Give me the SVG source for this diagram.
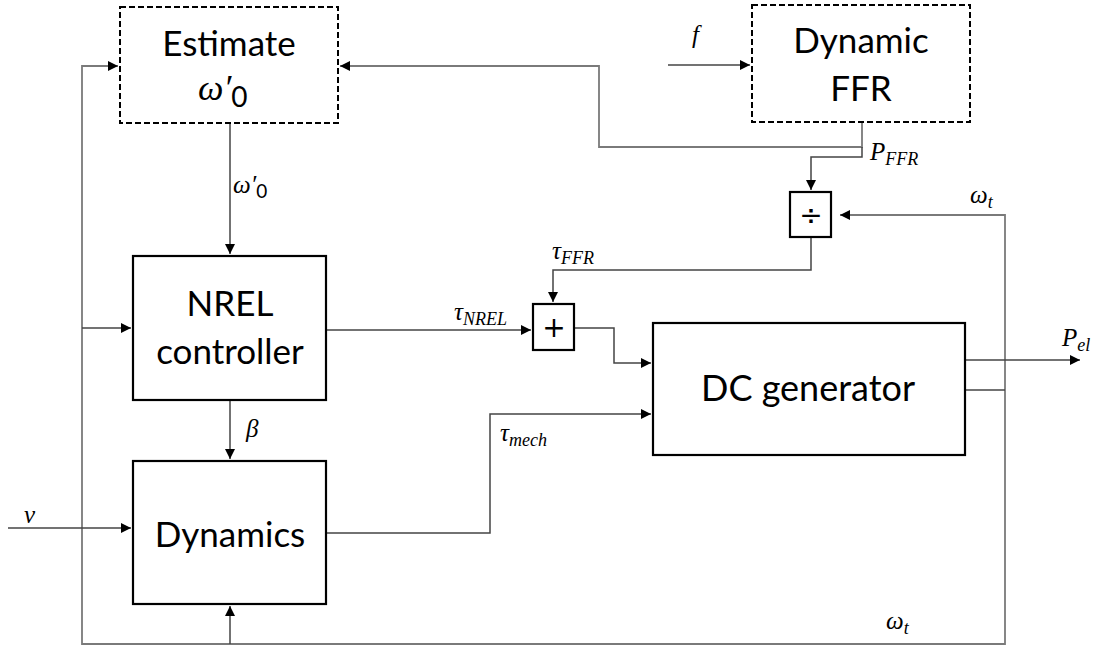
<svg xmlns="http://www.w3.org/2000/svg" width="1101" height="648" viewBox="0 0 1101 648">
<defs>
<marker id="ah" viewBox="0 0 10 10" refX="10" refY="5" markerWidth="10" markerHeight="10" markerUnits="userSpaceOnUse" orient="auto">
<path d="M0,0 L10,5 L0,10 z" fill="#000"/>
</marker>
</defs>
<style>
.box{fill:#fff;stroke:#000;stroke-width:2.2}
.dash{fill:#fff;stroke:#000;stroke-width:2;stroke-dasharray:6,3}
.lbl{font-family:Lato,"Open Sans","Liberation Sans",sans-serif;font-size:35px;fill:#000;text-anchor:middle}
.m{font-family:"Liberation Serif","DejaVu Serif",serif;font-style:italic;font-size:25px;fill:#000}
.sub{font-size:18px}
.c{fill:none;stroke:#444;stroke-width:1.5}
.g{fill:none;stroke:#7a7a7a;stroke-width:1.8}
.op{font-family:"DejaVu Sans",sans-serif;font-size:28px;fill:#000;text-anchor:middle}
</style>
<rect width="1101" height="648" fill="#fff"/>
<g id="connectors">
<polyline class="g" points="82,328 82,644 1005,644 1005,215 840,215" marker-end="url(#ah)"/>
<polyline class="g" points="82,328 82,66 118,66" marker-end="url(#ah)"/>
<line class="c" x1="82" y1="328" x2="131" y2="328" marker-end="url(#ah)"/>
<line class="c" x1="230" y1="644" x2="230" y2="606" marker-end="url(#ah)"/>
<line class="c" x1="8" y1="528" x2="131" y2="528" marker-end="url(#ah)"/>
<line class="c" x1="230" y1="124" x2="230" y2="254" marker-end="url(#ah)"/>
<line class="c" x1="230" y1="400" x2="230" y2="459" marker-end="url(#ah)"/>
<line class="c" x1="668" y1="65" x2="750" y2="65" marker-end="url(#ah)"/>
<polyline class="g" points="862,123 862,147 599,147 599,66 340,66" marker-end="url(#ah)"/>
<polyline class="c" points="862,147 862,157 811,157 811,190" marker-end="url(#ah)"/>
<polyline class="c" points="811,238 811,270 553,270 553,302" marker-end="url(#ah)"/>
<line class="c" x1="327" y1="330" x2="531" y2="330" marker-end="url(#ah)"/>
<polyline class="c" points="575,328 614,328 614,363 651,363" marker-end="url(#ah)"/>
<polyline class="c" points="327,533 490,533 490,414 651,414" marker-end="url(#ah)"/>
<line class="c" x1="966" y1="360" x2="1080" y2="360" marker-end="url(#ah)"/>
<line class="c" x1="966" y1="390" x2="1005" y2="390"/>
</g>
<g id="estimate">
<rect class="dash" x="120" y="7" width="218" height="116"/>
<text class="lbl" x="229" y="56">Estimate</text>
<text class="m" x="198" y="100" style="font-size:36px">ω′<tspan dy="7" style="font-style:normal;font-family:Lato,sans-serif;font-size:28px">0</tspan></text>
</g>
<g id="dynffr">
<rect class="dash" x="752" y="5" width="218" height="117"/>
<text class="lbl" x="861" y="53">Dynamic</text>
<text class="lbl" x="861" y="101">FFR</text>
</g>
<g id="nrel">
<rect class="box" x="133" y="256" width="193" height="144"/>
<text class="lbl" x="230" y="316">NREL</text>
<text class="lbl" x="230" y="364">controller</text>
</g>
<g id="dynamics">
<rect class="box" x="133" y="461" width="193" height="143"/>
<text class="lbl" x="230" y="547">Dynamics</text>
</g>
<g id="dcgen">
<rect class="box" x="653" y="323" width="312" height="132"/>
<text class="lbl" x="808" y="401" style="font-size:36px">DC generator</text>
</g>
<g id="divide">
<rect class="box" x="790" y="192" width="41" height="45"/>
<text class="op" x="811" y="225">÷</text>
</g>
<g id="plus">
<rect class="box" x="533" y="304" width="41" height="46"/>
<text class="op" x="554" y="337">+</text>
</g>
<g id="labels">
<text class="m" x="233" y="193">ω′<tspan dy="5" class="sub" style="font-style:normal;font-family:Lato,sans-serif;font-size:19px">0</tspan></text>
<text class="m" x="246" y="437">β</text>
<text class="m" x="24" y="523">v</text>
<text class="m" x="692" y="43">f</text>
<text class="m" x="870" y="160">P<tspan dy="5" class="sub">FFR</tspan></text>
<text class="m" x="970" y="203">ω<tspan dy="5" class="sub">t</tspan></text>
<text class="m" x="552" y="259">τ<tspan dy="5" class="sub">FFR</tspan></text>
<text class="m" x="454" y="320">τ<tspan dy="5" class="sub">NREL</tspan></text>
<text class="m" x="500" y="441">τ<tspan dy="5" class="sub">mech</tspan></text>
<text class="m" x="1062" y="346">P<tspan dy="5" class="sub">el</tspan></text>
<text class="m" x="886" y="629">ω<tspan dy="5" class="sub">t</tspan></text>
</g>
</svg>
